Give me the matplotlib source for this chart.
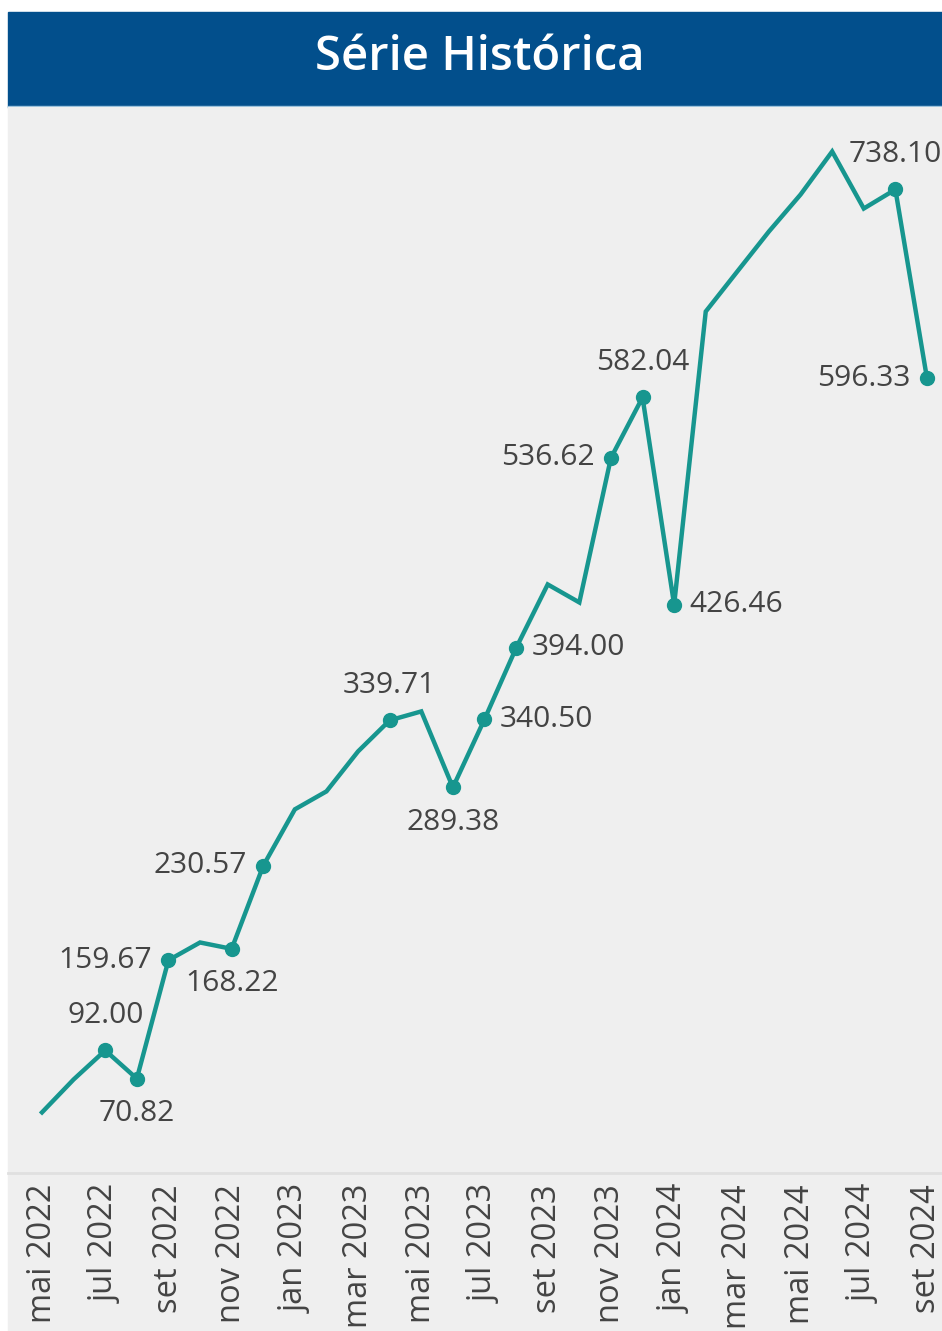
import matplotlib.pyplot as plt
from matplotlib.patches import Rectangle

plt.rcParams['font.family'] = ['Open Sans', 'DejaVu Sans']

# monthly series, mai 2022 -> set 2024
months = ["mai 2022", "jun 2022", "jul 2022", "ago 2022", "set 2022", "out 2022",
          "nov 2022", "dez 2022", "jan 2023", "fev 2023", "mar 2023", "abr 2023",
          "mai 2023", "jun 2023", "jul 2023", "ago 2023", "set 2023", "out 2023",
          "nov 2023", "dez 2023", "jan 2024", "fev 2024", "mar 2024", "abr 2024",
          "mai 2024", "jun 2024", "jul 2024", "ago 2024", "set 2024"]
values = [45.5, 70.2, 92.00, 70.82, 159.67, 173.0, 168.22, 230.57, 272.9, 286.4,
          316.4, 339.71, 346.4, 289.38, 340.50, 394.00, 441.7, 428.2, 536.62,
          582.04, 426.46, 646.5, 676.6, 706.6, 734.3, 766.6, 723.8, 738.10, 596.33]

# which points get a dot + value label, and where the label sits
labeled = {2: "above", 3: "below", 4: "left", 6: "below", 7: "left", 11: "above",
           13: "below", 14: "right", 15: "right", 18: "left", 19: "above",
           20: "right", 27: "above", 28: "left"}

line_color = "#17968f"
bg = "#efefef"
text_color = "#444444"

W, H = 942, 1331
fig = plt.figure(figsize=(W / 100, H / 100), dpi=100, facecolor="white")

# grey panel behind the plot and the tick labels
fig.patches.append(Rectangle((8 / W, 0), 934 / W, (H - 107) / H,
                             transform=fig.transFigure, color=bg, zorder=-2))
# title band
fig.patches.append(Rectangle((8 / W, (H - 107) / H), 934 / W, 95 / H,
                             transform=fig.transFigure, color="#024f8c", zorder=1))
fig.patches.append(Rectangle((8 / W, (H - 108) / H), 934 / W, 2 / H,
                             transform=fig.transFigure, color="#9cc3dc", zorder=2))
fig.text(480 / W, (H - 58) / H, "Série Histórica", color="white", fontsize=34,
         fontweight="semibold", ha="center", va="center", zorder=3)

ax = fig.add_axes([8 / W, (H - 1173) / H, 934 / W, (1173 - 107) / H])
ax.set_zorder(5)
ax.set_facecolor(bg)

x = list(range(len(months)))
ax.plot(x, values, color=line_color, lw=3.2, solid_joinstyle="miter", zorder=3)
ax.plot(list(labeled), [values[i] for i in labeled], "o", color=line_color,
        ms=10, zorder=4)

offsets = {"above": ((0, 25), "center", "center"),
           "below": ((0, -25), "center", "center"),
           "left": ((-12, 0), "right", "center"),
           "right": ((11, 0), "left", "center")}
for i, pos in labeled.items():
    off, ha, va = offsets[pos]
    ax.annotate(f"{values[i]:.2f}", (i, values[i]), xytext=off,
                textcoords="offset points", ha=ha, va=va, fontsize=21.5,
                color=text_color, zorder=5)

ax.set_xlim(-1.076, 28.475)
ax.set_ylim(0, 800)
ax.set_xticks(x[::2])
ax.set_xticklabels(months[::2], rotation=90, fontsize=23.5, color=text_color)
ax.tick_params(axis="x", length=0, pad=8)
ax.set_yticks([])
for side in ["top", "left", "right"]:
    ax.spines[side].set_visible(False)
ax.spines["bottom"].set_color("#e0e0e0")
ax.spines["bottom"].set_linewidth(2)

fig.savefig("out.png", dpi=100, facecolor="white")
